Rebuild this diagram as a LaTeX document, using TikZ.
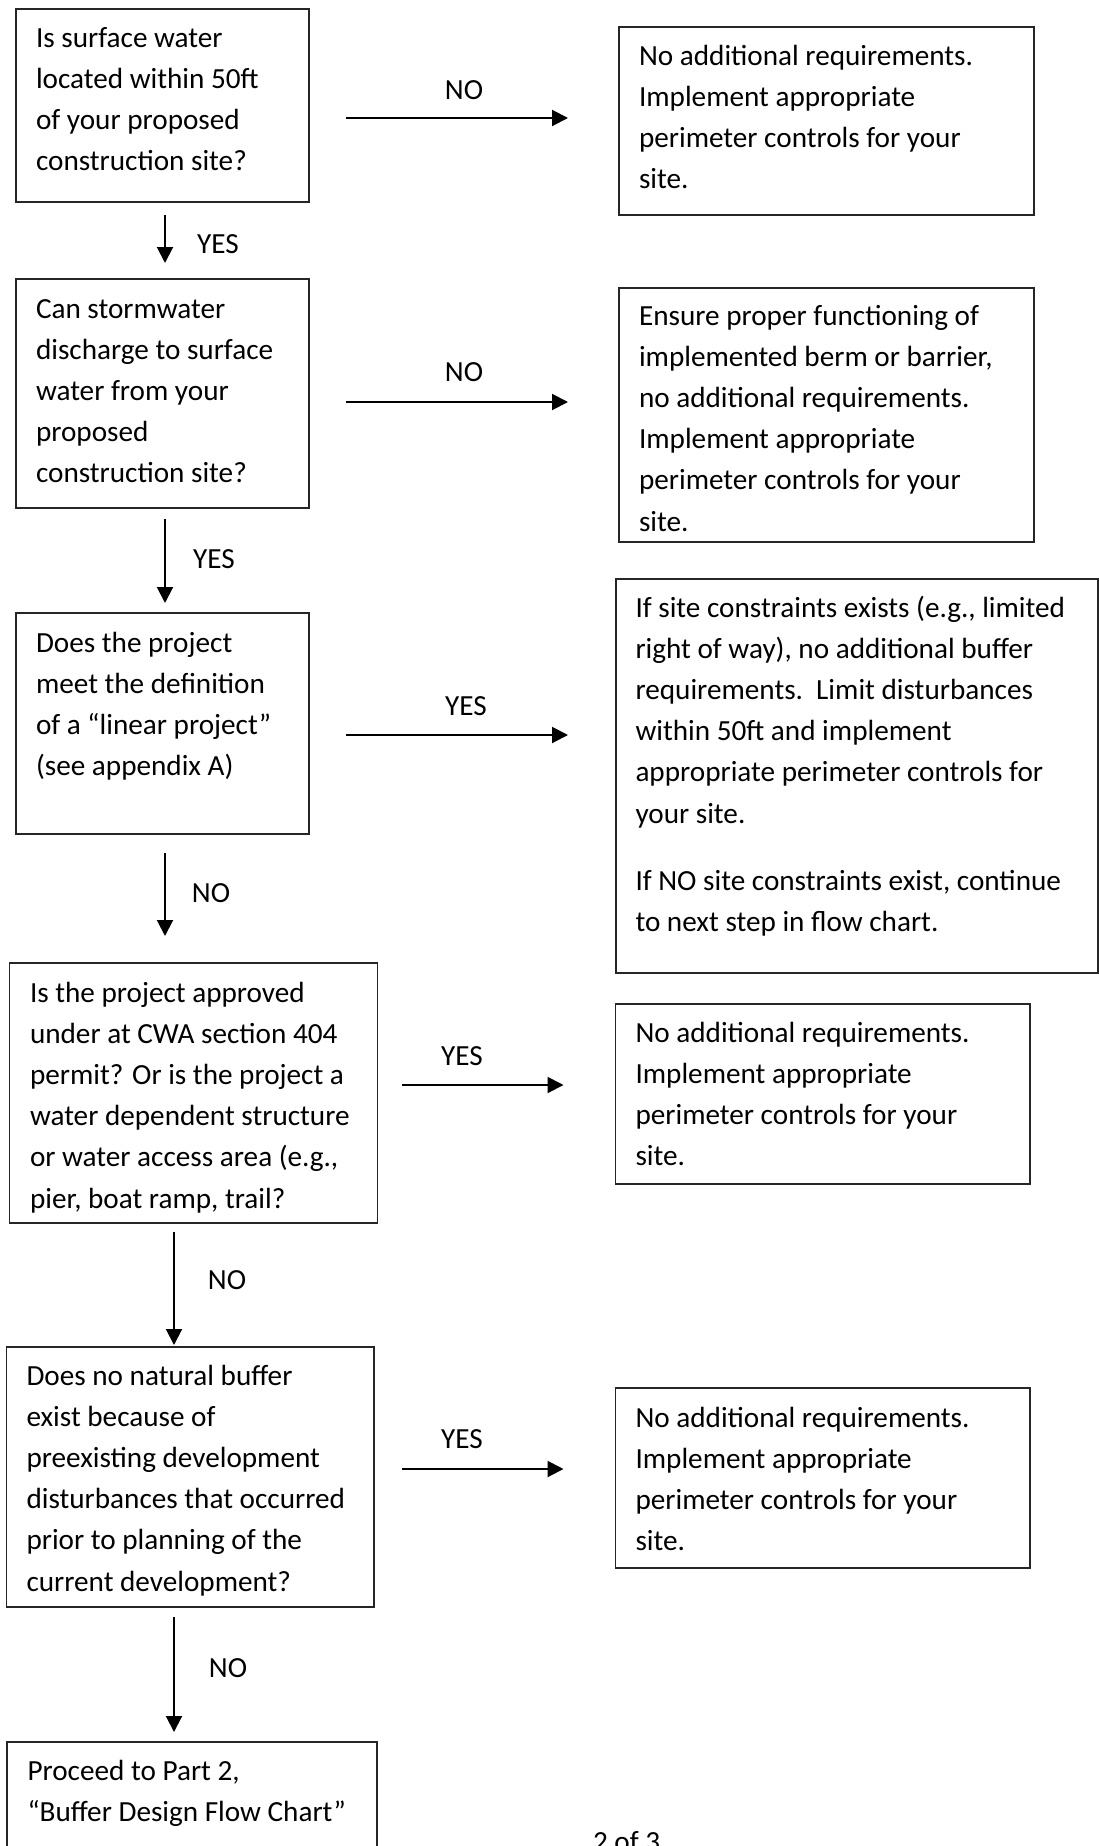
\documentclass[tikz,border=0pt]{standalone}
\usepackage{fontspec}
\setmainfont{Carlito}
\usetikzlibrary{arrows.meta}
\begin{document}
\begin{tikzpicture}[x=1pt,y=-1pt,
  box/.style={draw=black!85, line width=1.7pt, inner sep=0pt, outer sep=0pt, anchor=north west},
  txt/.style={inner sep=0pt, outer sep=0pt, anchor=north west, align=left, font=\fontsize{29.2pt}{41.2pt}\selectfont},
  lbl/.style={inner sep=0pt, outer sep=0pt, anchor=base, font=\fontsize{29.2pt}{41.2pt}\selectfont},
  arr/.style={line width=2pt, -{Triangle[length=16pt,width=16pt]}}]
\useasboundingbox[fill=white] (0,0) rectangle (1099,1846);

% boxes
\node[box, minimum width=293pt, minimum height=193pt] (q1) at (16,9) {};
\node[box, minimum width=415pt, minimum height=188pt] (r1) at (619,27) {};
\node[box, minimum width=293pt, minimum height=229pt] (q2) at (16,279) {};
\node[box, minimum width=415pt, minimum height=254pt] (r2) at (619,288) {};
\node[box, minimum width=293pt, minimum height=221pt] (q3) at (16,613) {};
\node[box, minimum width=482pt, minimum height=394pt] (r3) at (616,579) {};
\node[box, minimum width=368pt, minimum height=260pt] (q4) at (9.6,963) {};
\node[box, minimum width=414.4pt, minimum height=180pt] (r4) at (615.6,1004) {};
\node[box, minimum width=367.6pt, minimum height=260pt] (q5) at (6.4,1347) {};
\node[box, minimum width=414.4pt, minimum height=180pt] (r5) at (615.6,1388) {};
\node[box, minimum width=370pt, minimum height=200pt] (q6) at (6.7,1742) {};

% texts
\node[txt] (t1) at (36,18.2) {\strut Is surface water\\located within 50ft\\of your proposed\\construction site?};
\node[txt] (tr1) at (639,36.2) {\strut No additional requirements.\\Implement appropriate\\perimeter controls for your\\site.};
\node[txt] (t2) at (36,289.2) {\strut Can stormwater\\discharge to surface\\water from your\\proposed\\construction site?};
\node[txt] (tr2) at (639,296.2) {\strut Ensure proper functioning of\\implemented berm or barrier,\\no additional requirements.\\Implement appropriate\\perimeter controls for your\\site.};
\node[txt] (t3) at (36,623.2) {\strut Does the project\\meet the definition\\of a “linear project”\\(see appendix A)};
\node[txt] (tr3) at (635.5,588.2) {\strut If site constraints exists (e.g., limited\\right of way), no additional buffer\\requirements.\ \ Limit disturbances\\within 50ft and implement\\appropriate perimeter controls for\\your site.\\[26.4pt]If NO site constraints exist, continue\\to next step in flow chart.};
\node[txt] (t4) at (30,973.2) {\strut Is the project approved\\under at CWA section 404\\permit? Or is the project a\\water dependent structure\\or water access area (e.g.,\\pier, boat ramp, trail?};
\node[txt] (tr4) at (635.5,1013.2) {\strut No additional requirements.\\Implement appropriate\\perimeter controls for your\\site.};
\node[txt] (t5) at (26.5,1356.2) {\strut Does no natural buffer\\exist because of\\preexisting development\\disturbances that occurred\\prior to planning of the\\current development?};
\node[txt] (tr5) at (635.5,1398.2) {\strut No additional requirements.\\Implement appropriate\\perimeter controls for your\\site.};
\node[txt] (t6) at (27.5,1751.2) {\strut Proceed to Part 2,\\“Buffer Design Flow Chart”};
\node[lbl, anchor=base west] (pg) at (593,1851) {2 of 3};

% arrow end points
\coordinate (a1s) at (346,118);   \coordinate (a1e) at (568,118);
\coordinate (b1s) at (165,215);   \coordinate (b1e) at (165,263);
\coordinate (a2s) at (346,402);   \coordinate (a2e) at (568,402);
\coordinate (b2s) at (165,519);   \coordinate (b2e) at (165,603);
\coordinate (a3s) at (346,735);   \coordinate (a3e) at (568,735);
\coordinate (b3s) at (165,853);   \coordinate (b3e) at (165,936);
\coordinate (a4s) at (402,1085);  \coordinate (a4e) at (563.5,1085);
\coordinate (b4s) at (174,1232);  \coordinate (b4e) at (174,1345);
\coordinate (a5s) at (402,1469);  \coordinate (a5e) at (563.5,1469);
\coordinate (b5s) at (174,1617);  \coordinate (b5e) at (174,1732);

\draw[arr] (a1s) -- (a1e);
\draw[arr] (b1s) -- (b1e);
\draw[arr] (a2s) -- (a2e);
\draw[arr] (b2s) -- (b2e);
\draw[arr] (a3s) -- (a3e);
\draw[arr] (b3s) -- (b3e);
\draw[arr] (a4s) -- (a4e);
\draw[arr] (b4s) -- (b4e);
\draw[arr] (a5s) -- (a5e);
\draw[arr] (b5s) -- (b5e);

% labels
\node[lbl] (l1) at (464,100) {NO};
\node[lbl] (l2) at (218,253) {YES};
\node[lbl] (l3) at (464,381) {NO};
\node[lbl] (l4) at (214,568) {YES};
\node[lbl] (l5) at (466,715) {YES};
\node[lbl] (l6) at (211,902) {NO};
\node[lbl] (l7) at (462,1065) {YES};
\node[lbl] (l8) at (227,1289) {NO};
\node[lbl] (l9) at (462,1448) {YES};
\node[lbl] (l10) at (228,1677) {NO};
\end{tikzpicture}
\end{document}
